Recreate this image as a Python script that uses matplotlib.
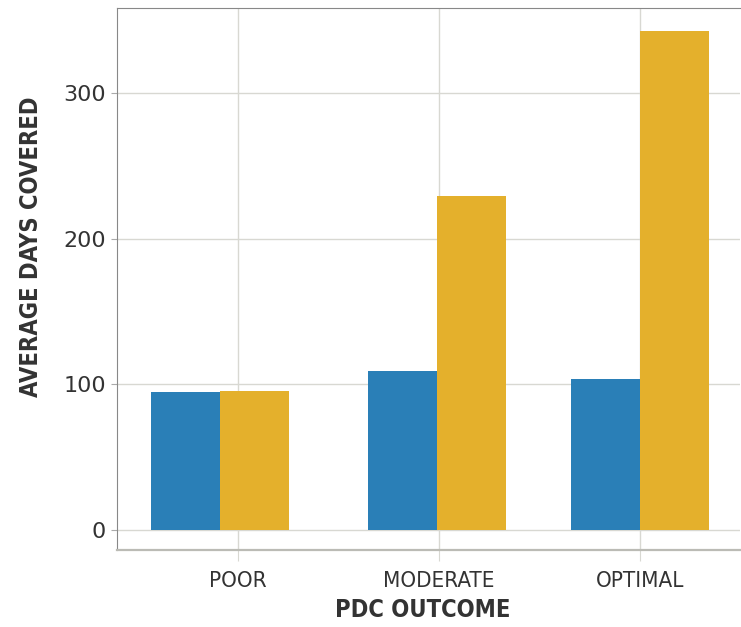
import matplotlib
matplotlib.use("Agg")
import matplotlib.pyplot as plt
import numpy as np

categories = ["POOR", "MODERATE", "OPTIMAL"]
blue_vals = [94.7, 109.0, 103.6]
gold_vals = [95.4, 229.0, 342.5]

BLUE = "#2A7FB7"
GOLD = "#E4B02C"
TXT = "#333333"
GRID = "#d8d8d2"

fig = plt.figure(figsize=(7.41, 6.27), dpi=100)
ax = fig.add_axes([117 / 741, 1 - 550 / 627, 623 / 741, 542 / 627])

x = np.arange(len(categories))
# the first group sits a bit left of its tick in the original
shift = np.array([-0.09, -0.01, 0.0])
w = 0.343
ax.bar(x + shift - w / 2, blue_vals, w, color=BLUE, zorder=3)
ax.bar(x + shift + w / 2, gold_vals, w, color=GOLD, zorder=3)

ax.set_xlim(-0.602, 2.497)
ax.set_ylim(-13.7, 358.4)
ax.set_xticks(x)
ax.set_xticklabels(categories, fontsize=16, color=TXT, fontstretch="condensed")
ax.set_yticks([0, 100, 200, 300])
ax.set_yticklabels(["0", "100", "200", "300"], fontsize=16, color=TXT)

ax.grid(True, color=GRID, lw=1, zorder=0)
ax.tick_params(axis="x", length=8, color=GRID, pad=7)
ax.tick_params(axis="y", length=4, color="#aaaaaa", pad=4)

ax.spines["left"].set_color("#888888")
ax.spines["top"].set_color("#888888")
ax.spines["bottom"].set_color("#bbbbb5")
ax.spines["bottom"].set_linewidth(1.6)
ax.spines["right"].set_visible(False)

ax.set_xlabel("PDC OUTCOME", fontsize=17, fontweight="bold", fontstretch="condensed",
              color=TXT)
ax.set_ylabel("AVERAGE DAYS COVERED", fontsize=17, fontstretch="condensed",
              fontweight="bold", color=TXT)
ax.xaxis.set_label_coords(0.4912, -0.0886)
ax.yaxis.set_label_coords(-0.1188, 0.559)

fig.savefig("out.png", dpi=100)
